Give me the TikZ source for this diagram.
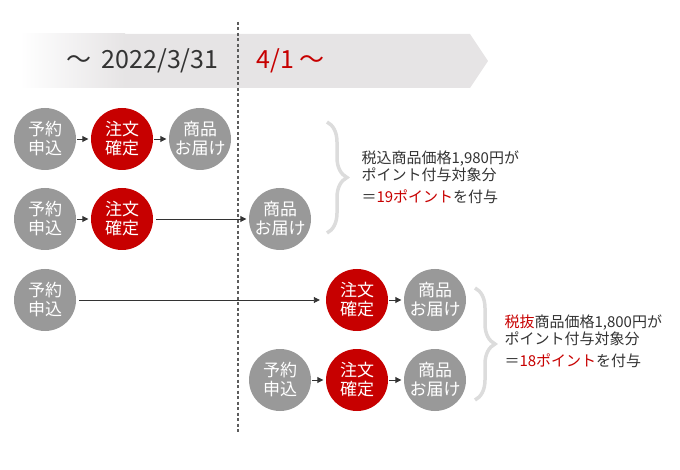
\documentclass[tikz,border=0pt]{standalone}
\usepackage{fontspec}
\setmainfont{Noto Sans CJK JP}
\usetikzlibrary{arrows.meta,decorations.pathreplacing}

\definecolor{circgray}{HTML}{999999}
\definecolor{ordred}{HTML}{C70000}
\definecolor{inkdark}{HTML}{333333}
\definecolor{bandgray}{HTML}{E6E4E5}
\definecolor{bracegray}{HTML}{DCDCDC}

\tikzset{
  stepgray/.style={circle, fill=circgray, minimum size=62pt, inner sep=0pt,
    text=white, align=center, font=\fontsize{17}{19}\selectfont},
  stepred/.style={stepgray, fill=ordred},
  flow/.style={draw=inkdark, line width=0.9pt, -{Triangle[length=6pt,width=6pt]},
    shorten <=1pt, shorten >=2.5pt},
  bigbrace/.style={draw=bracegray, line width=3.5pt,
    decorate, decoration={brace, amplitude=20pt}},
  note/.style={anchor=west, align=left, text=inkdark, font=\fontsize{15}{17}\selectfont}
}

\begin{document}
\begin{tikzpicture}[x=1pt, y=-1pt]
  \useasboundingbox (0,0) rectangle (680,470);

  % band
  \fill[bandgray] (20,34) -- (470,34) -- (488,61) -- (470,88) -- (20,88) -- cycle;
  \shade[left color=white, right color=bandgray] (20,34) rectangle (125,88);
  \node[anchor=east, text=inkdark, font=\fontsize{25}{27}\selectfont] (before) at (222,61) {〜\ \kern5pt 2022/3/31};
  \node[anchor=west, text=ordred, font=\fontsize{25}{27}\selectfont] (after) at (253,61) {4/1\ 〜};

  \coordinate (cuttop) at (238,22);
  \coordinate (cutbot) at (238,434);
  \draw[draw=inkdark!80, line width=1.6pt, dash pattern=on 3pt off 2.5pt] (cuttop) -- (cutbot);

  \node[stepgray] (resA) at (45,139) {予約\\申込};
  \node[stepred]  (ordA) at (122,139) {注文\\確定};
  \node[stepgray] (delA) at (200,139) {商品\\お届け};
  \draw[flow] (resA) -- (ordA);
  \draw[flow] (ordA) -- (delA);

  \node[stepgray] (resB) at (45,219) {予約\\申込};
  \node[stepred]  (ordB) at (122,219) {注文\\確定};
  \node[stepgray] (delB) at (280,219) {商品\\お届け};
  \draw[flow] (resB) -- (ordB);
  \draw[flow, shorten <=3pt] (ordB) -- (delB);

  \node[stepgray] (resC) at (45,300) {予約\\申込};
  \node[stepred]  (ordC) at (357,300) {注文\\確定};
  \node[stepgray] (delC) at (435,300) {商品\\お届け};
  \draw[flow, shorten <=3pt, shorten >=6pt] (resC) -- (ordC);
  \draw[flow] (ordC) -- (delC);

  \node[stepgray] (resD) at (280,380) {予約\\申込};
  \node[stepred]  (ordD) at (357,380) {注文\\確定};
  \node[stepgray] (delD) at (435,380) {商品\\お届け};
  \draw[flow] (resD) -- (ordD);
  \draw[flow] (ordD) -- (delD);

  \draw[bigbrace] (327,122) -- (327,233);
  \draw[bigbrace] (475,288) -- (475,400);

  \node[note] (noteA) at (358,177) {税込商品価格1,980円が\\ポイント付与対象分\\[5pt]＝{\color{ordred}19ポイント}を付与};
  \node[note] (noteB) at (501,341) {{\color{ordred}税抜}商品価格1,800円が\\ポイント付与対象分\\[5pt]＝{\color{ordred}18ポイント}を付与};
\end{tikzpicture}
\end{document}
